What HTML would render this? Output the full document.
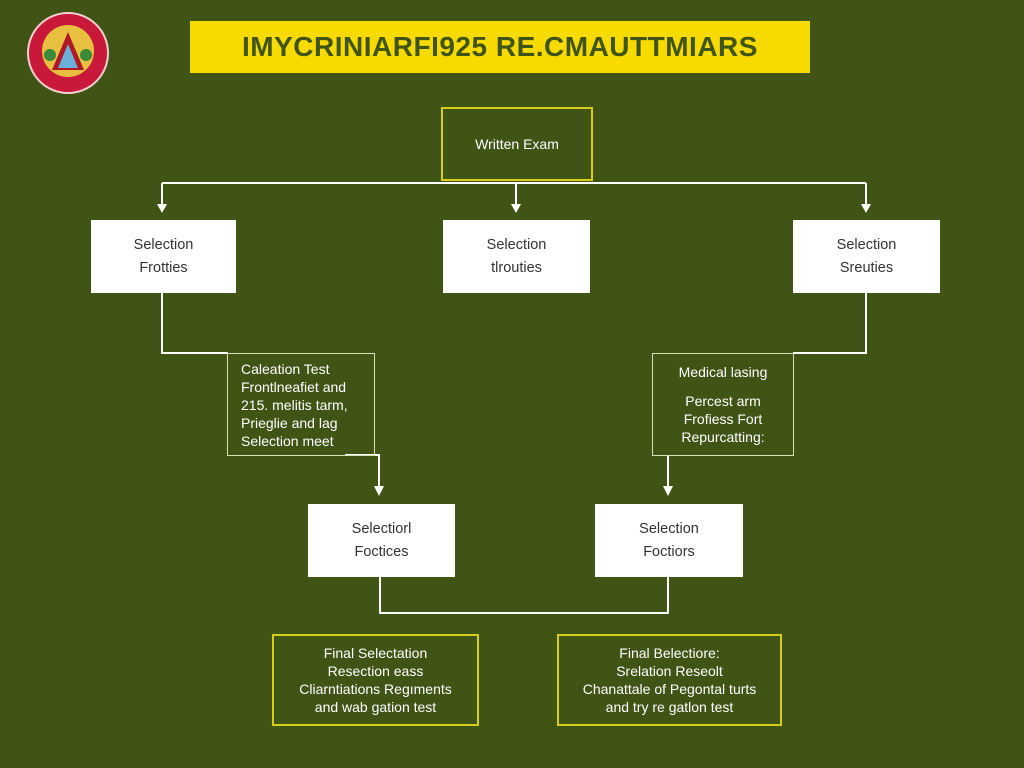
<!DOCTYPE html>
<html><head><meta charset="utf-8"><style>
body{margin:0;width:1024px;height:768px;background:#3f5415;font-family:"Liberation Sans",sans-serif;position:relative;overflow:hidden}
.b{position:absolute;box-sizing:border-box;display:flex;flex-direction:column;align-items:center;justify-content:center;text-align:center}
.w{background:#fff;color:#333;font-size:14.5px;line-height:23px}
.g{border:1.5px solid #d8e0b8;color:#fff;font-size:14px;line-height:18px}
.y{border:2px solid #d8cc1a;color:#fff;font-size:14px;line-height:18px}
</style></head><body>
<svg width="1024" height="768" style="position:absolute;left:0;top:0">
<g stroke="#fff" stroke-width="2" fill="none">
<path d="M162,183 H866"/>
<path d="M162,183 V206"/>
<path d="M516,183 V206"/>
<path d="M866,183 V206"/>
<path d="M162,292 V353 H228"/>
<path d="M866,292 V353 H793"/>
<path d="M345,455 H379 V488"/>
<path d="M668,455 V488"/>
<path d="M380,576 V613 H668 V576"/>
</g>
<g fill="#fff">
<path d="M157,204 h10 l-5,9z"/>
<path d="M511,204 h10 l-5,9z"/>
<path d="M861,204 h10 l-5,9z"/>
<path d="M374,486 h10 l-5,10z"/>
<path d="M663,486 h10 l-5,10z"/>
</g>
<circle cx="68" cy="53" r="40" fill="#c8193a" stroke="#f4d0d0" stroke-width="2"/>
<circle cx="68" cy="51" r="26" fill="#e8c040"/>
<path d="M52,70 L68,32 L84,70z" fill="#b01828"/>
<path d="M58,68 L68,44 L78,68z" fill="#6ab0d8"/>
<circle cx="50" cy="55" r="6" fill="#3a8a3a"/><circle cx="86" cy="55" r="6" fill="#3a8a3a"/>
</svg>
<div class="b" style="left:190px;top:21px;width:620px;height:52px;background:#f7da00;color:#3f5415;font-weight:bold;font-size:28px;letter-spacing:0.5px">IMYCRINIARFI925 RE.CMAUTTMIARS</div>
<div class="b y" style="left:441px;top:107px;width:152px;height:74px;font-size:14px">Written Exam</div>
<div class="b w" style="left:91px;top:220px;width:145px;height:73px">Selection<br>Frotties</div>
<div class="b w" style="left:443px;top:220px;width:147px;height:73px">Selection<br>tlrouties</div>
<div class="b w" style="left:793px;top:220px;width:147px;height:73px">Selection<br>Sreuties</div>
<div class="b g" style="left:227px;top:353px;width:148px;height:103px;align-items:flex-start;padding-left:13px;text-align:left">Caleation Test<br>Frontlneafiet and<br>215. melitis tarm,<br>Prieglie and lag<br>Selection meet</div>
<div class="b g" style="left:652px;top:353px;width:142px;height:103px;line-height:18px"><div>Medical lasing</div><div style="margin-top:11px">Percest arm<br>Frofiess Fort<br>Repurcatting:</div></div>
<div class="b w" style="left:308px;top:504px;width:147px;height:73px">Selectiorl<br>Foctices</div>
<div class="b w" style="left:595px;top:504px;width:148px;height:73px">Selection<br>Foctiors</div>
<div class="b y" style="left:272px;top:634px;width:207px;height:92px">Final Selectation<br>Resection eass<br>Cliarntiations Regıments<br>and wab gation test</div>
<div class="b y" style="left:557px;top:634px;width:225px;height:92px">Final Belectiore:<br>Srelation Reseolt<br>Chanattale of Pegontal turts<br>and try re gatlon test</div>
</body></html>
